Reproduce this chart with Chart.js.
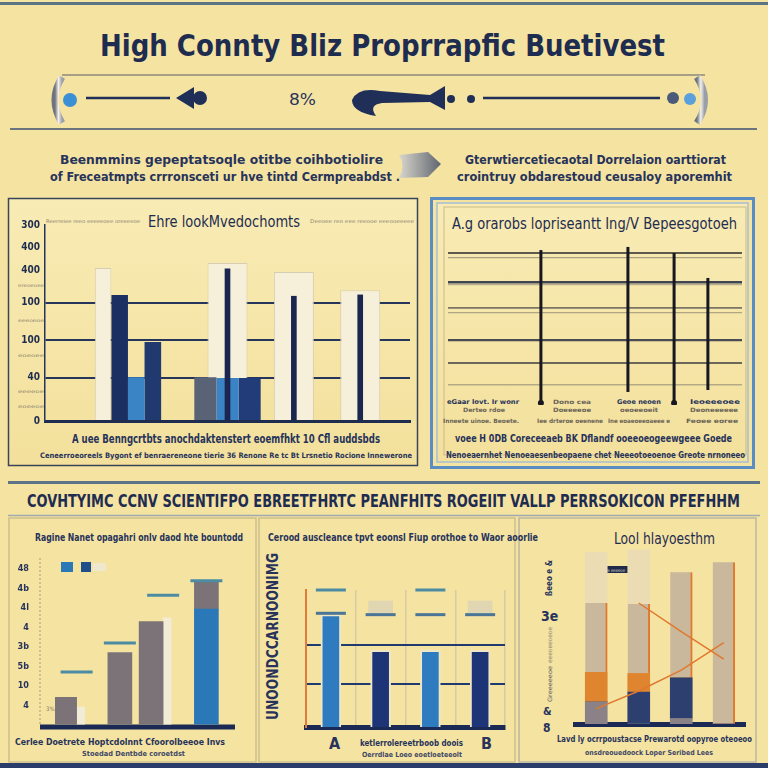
<!DOCTYPE html>
<html><head><meta charset="utf-8">
<script src="https://cdn.jsdelivr.net/npm/chart.js@4/dist/chart.umd.min.js"></script>
<style>
html,body{margin:0;padding:0;background:#f5e3a2;}
#page{position:relative;width:768px;height:768px;overflow:hidden;background:#f5e3a2;}
#bg{position:absolute;left:0;top:0;}
canvas{position:absolute;}
.hd{font-family:"Liberation Sans Narrow","DejaVu Sans Condensed",sans-serif;font-weight:bold;fill:#1e2c50;}
.sm{font-family:"DejaVu Sans Condensed","DejaVu Sans",sans-serif;font-weight:bold;fill:#27335a;}
.lt{font-family:"DejaVu Sans Condensed","DejaVu Sans",sans-serif;fill:#8d8470;}
</style></head><body>
<div id="page">
<svg id="bg" width="768" height="768" xmlns="http://www.w3.org/2000/svg">
  <defs>
    <linearGradient id="ga" x1="0" x2="1"><stop offset="0" stop-color="#d9d6cc"/><stop offset="1" stop-color="#5f6670"/></linearGradient>
    <linearGradient id="gc" x1="0" x2="1"><stop offset="0" stop-color="#6f737c"/><stop offset="0.5" stop-color="#f4f1ea"/><stop offset="1" stop-color="#9a9ea6"/></linearGradient>
    <linearGradient id="gb" x1="0" x2="0" y1="0" y2="1"><stop offset="0" stop-color="#f8ebb4"/><stop offset="1" stop-color="#f3e09c"/></linearGradient>
  </defs>
  <!-- header -->
  <rect x="0" y="2" width="768" height="3" fill="#5d7486"/>
  <text class="hd" x="100" y="56" font-size="30" textLength="565" lengthAdjust="spacingAndGlyphs" style="font-weight:600">High Connty Bliz Proprrapfic Buetivest</text>
  <line x1="62" y1="75" x2="705" y2="75" stroke="#8c8a7c" stroke-width="1.5"/>
  <path d="M62 77 Q48 100 62 123" stroke="url(#gc)" stroke-width="7" fill="none"/>
  <circle cx="70" cy="100" r="7" fill="#3b8fd4"/>
  <line x1="86" y1="98" x2="170" y2="98" stroke="#1f2f58" stroke-width="2.5"/>
  <path d="M176 98 L194 87 L194 109 Z" fill="#1f2f58"/><circle cx="200" cy="98" r="7" fill="#1f2f58"/>
  <text class="sm" x="289" y="105" font-size="15" textLength="27" lengthAdjust="spacingAndGlyphs" style="font-weight:normal">8%</text>
  <path d="M352 100 Q358 87 380 91 L430 95 L445 86 L445 110 L430 102 L382 103 Q368 105 376 116 Q352 112 352 100 Z" fill="#1f2f58"/>
  <circle cx="451" cy="99" r="4" fill="#1f2f58"/>
  <circle cx="471" cy="99" r="4" fill="#1f2f58"/>
  <line x1="483" y1="98" x2="660" y2="98" stroke="#1f2f58" stroke-width="2.5"/>
  <circle cx="673" cy="98" r="6" fill="#4a5a78"/>
  <circle cx="690" cy="99" r="6" fill="#5aa0dc"/>
  <path d="M697 77 Q712 100 697 123" stroke="url(#gc)" stroke-width="7" fill="none"/>
  <line x1="10" y1="129" x2="757" y2="129" stroke="#6c7480" stroke-width="2"/>

  <!-- subtitles -->
  <text class="sm" x="60" y="164" font-size="13" textLength="323" lengthAdjust="spacingAndGlyphs">Beenmmins gepeptatsoqle otitbe coihbotiolire</text>
  <text class="sm" x="50" y="181" font-size="13" textLength="350" lengthAdjust="spacingAndGlyphs">of Freceatmpts crrronsceti ur hve tintd Cermpreabdst .</text>
  <path d="M399 155 L428 152 L441 164 L428 177 L399 178 Q406 166 399 155 Z" fill="url(#ga)"/>
  <text class="sm" x="465" y="164" font-size="13" textLength="261" lengthAdjust="spacingAndGlyphs">Gterwtiercetiecaotal Dorrelaion oarttiorat</text>
  <text class="sm" x="457" y="181" font-size="13" textLength="275" lengthAdjust="spacingAndGlyphs">crointruy obdarestoud ceusaloy aporemhit</text>

  <!-- left box -->
  <rect x="8.5" y="198.5" width="409" height="267" fill="url(#gb)" stroke="#3a4658" stroke-width="1.5"/>
  <text class="hd" x="148" y="227" font-size="15" textLength="152" lengthAdjust="spacingAndGlyphs" style="font-weight:normal;font-family:'DejaVu Sans Condensed'">Ehre lookMvedochomts</text>
  <text class="lt" x="46" y="223" font-size="5" textLength="94" lengthAdjust="spacingAndGlyphs">Reerreiee reeo eeeeeoee oreeeeoe</text>
  <text class="lt" x="310" y="223" font-size="5" textLength="104" lengthAdjust="spacingAndGlyphs">Deeoee reo eee reeooe eeeooeeeee</text>
  <text class="lt" x="18" y="287" font-size="4.5" textLength="26" lengthAdjust="spacingAndGlyphs">ereoeoee</text>
  <text class="lt" x="18" y="322" font-size="4.5" textLength="26" lengthAdjust="spacingAndGlyphs">eeeoeoe</text>
  <text class="lt" x="18" y="357" font-size="4.5" textLength="26" lengthAdjust="spacingAndGlyphs">eoeoee</text>
  <text class="lt" x="18" y="393" font-size="4.5" textLength="26" lengthAdjust="spacingAndGlyphs">eeeeoe</text>
  <text class="lt" x="18" y="408" font-size="4.5" textLength="26" lengthAdjust="spacingAndGlyphs">eoeeoe</text>
  <text class="sm" x="72" y="443" font-size="11.5" textLength="308" lengthAdjust="spacingAndGlyphs">A uee Benngcrtbts anochdaktenstert eoemfhkt 10 Cfl auddsbds</text>
  <text class="sm" x="40" y="458" font-size="7.5" textLength="372" lengthAdjust="spacingAndGlyphs">Ceneerroeoreels Bygont ef benraereneone tierie 36 Renone Re tc Bt Lrsnetio Rocione Innewerone</text>

  <!-- right box -->
  <rect x="431.5" y="198.5" width="322" height="269" fill="none" stroke="#5a8dc4" stroke-width="3"/>
  <rect x="437" y="203" width="311" height="259" fill="url(#gb)" stroke="#a6bfd4" stroke-width="1.5"/>
  <rect x="444" y="207" width="302" height="248" fill="none" stroke="#c9b98a" stroke-width="1"/>
  <text class="hd" x="452" y="229" font-size="15.5" textLength="285" lengthAdjust="spacingAndGlyphs" style="font-weight:normal;font-family:'DejaVu Sans Condensed'">A.g orarobs lopriseantt Ing/V Bepeesgotoeh</text>
  <text class="sm" x="447" y="404" font-size="6.5" textLength="72" lengthAdjust="spacingAndGlyphs">eGaar lovt. Ir wonr</text>
  <text class="sm" x="463" y="412" font-size="6" textLength="42" lengthAdjust="spacingAndGlyphs" style="fill:#6a6458">Derteo rdoe</text>
  <text class="sm" x="443" y="423" font-size="6" textLength="76" lengthAdjust="spacingAndGlyphs" style="fill:#6a6458">Inneete uinoe. Beoete.</text>
  <text class="sm" x="553" y="404" font-size="6" textLength="38" lengthAdjust="spacingAndGlyphs" style="fill:#6a6458">Dono cea</text>
  <text class="sm" x="553" y="412" font-size="6" textLength="38" lengthAdjust="spacingAndGlyphs" style="fill:#6a6458">Doeeeeoe</text>
  <text class="sm" x="537" y="423" font-size="6" textLength="66" lengthAdjust="spacingAndGlyphs" style="fill:#6a6458">Iee drteroe oeenene</text>
  <text class="sm" x="617" y="404" font-size="6.5" textLength="44" lengthAdjust="spacingAndGlyphs">Geoe neoen</text>
  <text class="sm" x="620" y="412" font-size="6" textLength="38" lengthAdjust="spacingAndGlyphs" style="fill:#6a6458">oeoeeoeit</text>
  <text class="sm" x="608" y="423" font-size="6" textLength="62" lengthAdjust="spacingAndGlyphs" style="fill:#6a6458">Ine eoaeoeeoaeee e</text>
  <text class="sm" x="690" y="404" font-size="6.5" textLength="50" lengthAdjust="spacingAndGlyphs">Ieoeeeoee</text>
  <text class="sm" x="690" y="412" font-size="6" textLength="48" lengthAdjust="spacingAndGlyphs" style="fill:#6a6458">Deoneeeeee</text>
  <text class="sm" x="686" y="423" font-size="6" textLength="52" lengthAdjust="spacingAndGlyphs" style="fill:#6a6458">Feoee eoree</text>
  <text class="sm" x="455" y="442" font-size="10" textLength="277" lengthAdjust="spacingAndGlyphs">voee H 0DB Coreceeaeb BK Dflandf ooeeoeogeewgeee Goede</text>
  <text class="sm" x="446" y="458" font-size="8.5" textLength="299" lengthAdjust="spacingAndGlyphs">Nenoeaernhet Nenoeaesenbeopaene chet Neeeotoeoenoe Greote nrnoneeo</text>

  <!-- bottom section -->
  <rect x="8" y="481" width="752" height="3" fill="#5b7488"/>
  <text class="hd" x="27" y="507" font-size="18" textLength="713" lengthAdjust="spacingAndGlyphs">COVHTYIMC CCNV SCIENTIFPO EBREETFHRTC PEANFHITS ROGEIIT VALLP PERRSOKICON PFEFHHM</text>
  <line x1="8" y1="515.5" x2="760" y2="515.5" stroke="#9eaab0" stroke-width="1.5"/>
  <rect x="9" y="518" width="247" height="244" fill="none" stroke="#cdbf8c" stroke-width="1.5"/>
  <rect x="259" y="518" width="256" height="244" fill="none" stroke="#cdbf8c" stroke-width="1.5"/>
  <rect x="519" y="518" width="237" height="244" fill="none" stroke="#b9b8a4" stroke-width="1.5"/>
  <rect x="0" y="763" width="768" height="5" fill="#2a3d6a"/>

  <!-- panel A -->
  <text class="sm" x="35" y="541" font-size="10" textLength="208" lengthAdjust="spacingAndGlyphs">Ragine Nanet opagahri onlv daod hte bountodd</text>
  <line x1="40" y1="558" x2="40" y2="724" stroke="#c2b384" stroke-width="1.5" stroke-dasharray="2 2"/>
  <line x1="40" y1="727" x2="235" y2="727" stroke="#1a2a55" stroke-width="5"/>
  <rect x="61" y="562" width="12" height="10" fill="#2a78b8"/>
  <rect x="81" y="562" width="10" height="10" fill="#1e4f8a"/>
  <rect x="93" y="563" width="13" height="8" fill="#efe8cf"/>
  <text class="lt" x="46" y="711" font-size="6" style="fill:#8a7c68">3%</text>
  <text class="sm" x="15" y="745" font-size="9.5" textLength="210" lengthAdjust="spacingAndGlyphs">Cerlee Doetrete Hoptcdolnnt Cfoorolbeeoe Invs</text>
  <text class="sm" x="82" y="756" font-size="7" textLength="103" lengthAdjust="spacingAndGlyphs" style="fill:#3f4866">Stoedad Dentbde coroetdst</text>

  <!-- panel B -->
  <text class="sm" x="268" y="541" font-size="10" textLength="270" lengthAdjust="spacingAndGlyphs">Cerood auscleance tpvt eoonsl Fiup orothoe to Waor aoorlie</text>
  <text class="sm" transform="translate(278 720) rotate(-90)" x="0" y="0" font-size="16" textLength="167" lengthAdjust="spacingAndGlyphs">UNOONDCCARNOONIMG</text>
  <text class="sm" x="329" y="749" font-size="16">A</text>
  <text class="sm" x="481" y="749" font-size="16">B</text>
  <text class="sm" x="360" y="746" font-size="9" textLength="103" lengthAdjust="spacingAndGlyphs">ketlerrolereetrboob doois</text>
  <text class="sm" x="362" y="757" font-size="7" textLength="100" lengthAdjust="spacingAndGlyphs" style="fill:#3f4866">Oerrdlae Loeo eoetloeteeolt</text>

  <!-- panel C -->
  <text class="hd" x="614" y="544" font-size="16" textLength="101" lengthAdjust="spacingAndGlyphs" style="font-weight:normal;font-family:'DejaVu Sans Condensed'">Lool hlayoesthm</text>
  <text class="sm" transform="translate(552 596) rotate(-90)" x="0" y="0" font-size="8" textLength="36" lengthAdjust="spacingAndGlyphs">ßeeo e &amp;</text>
  <text class="sm" x="541" y="621" font-size="14">3e</text>
  <text class="lt" transform="translate(552 663) rotate(-90)" x="0" y="0" font-size="6" textLength="36" lengthAdjust="spacingAndGlyphs">eeeoeeoeoe</text>
  <text class="lt" transform="translate(552 702) rotate(-90)" x="0" y="0" font-size="6" textLength="36" lengthAdjust="spacingAndGlyphs" style="fill:#5a5a60">Greeeeeoe</text>
  <text class="sm" x="543" y="715" font-size="11">&amp;</text>
  <text class="sm" x="543" y="732" font-size="12">8</text>
  <rect x="587" y="566" width="41" height="7" fill="#1f2b48"/>
  <text class="lt" x="590" y="571.5" font-size="4.5" textLength="35" lengthAdjust="spacingAndGlyphs" style="fill:#d8d4c8">eo eeeoee eeeeoe</text>
  <text class="sm" x="557" y="742" font-size="9" textLength="195" lengthAdjust="spacingAndGlyphs">Lavd ly ocrrpoustacse Prewarotd oopyroe oteoeoo</text>
  <text class="sm" x="585" y="755" font-size="7" textLength="128" lengthAdjust="spacingAndGlyphs" style="fill:#3f4866">onsdreouedoock Loper Seribed Lees</text>
</svg>
<canvas id="cL" width="408" height="266" style="left:9px;top:199px"></canvas>
<canvas id="cR" width="298" height="175" style="left:446px;top:235px"></canvas>
<canvas id="cA" width="245" height="212" style="left:10px;top:536px"></canvas>
<canvas id="cB" width="215" height="150" style="left:296px;top:580px"></canvas>
<canvas id="cC" width="195" height="190" style="left:560px;top:540px"></canvas>
</div>
<script>
// ---------- DATA ----------
// Left chart: groups placed on 11 category slots
const leftCategories = ["", "", "Groupe 1", "", "", "Groupe 2", "", "Groupe 3", "", "Groupe 4", ""];
const leftTickValues = [0, 66, 124, 181, 231, 266, 300];
const leftTickLabels = ["0", "40", "100", "100", "400", "400", "300"];
const leftCreamFront = [null, null, 234, null, null, null, null, null, null, null, null];
const leftNavy       = [null, null, 193, null, null, 67, null, null, null, null, null];
const leftBlue       = [null, null, 67, null, null, 66, null, null, null, null, null];
const leftNavy2      = [null, null, 121, null, null, 66, null, null, null, null, null];
const leftCreamBack  = [null, null, null, null, null, 242, null, 228, null, 200, null];
const leftNavyLines  = [null, null, null, null, null, 233, null, 191, null, 193, null];

// Right chart: vertical lines and horizontal rules
const rightLineX      = [31.6, 61.2, 76.9, 88.4];
const rightLineTop    = [93.9, 95.8, 92.1, 77.0];
const rightLineBottom = [1.2, 7.9, 1.2, 9.1];
const rightRuleValues = [12.1, 25.5, 39.4, 55.8, 58.8, 72.7, 74.5, 89.1, 92.1];

// Panel A
const aCategories = ["A1", "A2", "A3", "A4"];
const aTickLabels = ["4", "10", "5b", "3b", "4", "4l", "4b", "48"];
const aBlue   = [null, null, null, 5.95];
const aGray   = [1.4, 3.7, 5.3, 1.4];
const aCream  = [0.9, null, 5.5, null];
const aTarget = [2.7, 4.2, 6.65, 7.4];

// Panel B
const bCategories = ["A", "", "", "B"];
const bBars    = [4.1, 2.8, 2.8, 2.8];
const bTargetHigh = [5.0, null, 5.0, null];
const bTargetLow  = [4.15, 4.1, 4.1, 4.1];
const bBoxLow  = [null, 4.15, null, 4.15];
const bBoxHigh = [null, 4.6, null, 4.6];
const bGridValues = [1.57, 3.0];

// Panel C
const cCategories = ["C1", "C2", "C3", "C4"];
const cGray   = [1.0, 0, 0.25, 0];
const cNavy   = [0, 1.45, 1.85, 0];
const cOrange = [1.35, 0.85, 0, 0];
const cTan    = [3.15, 3.15, 4.8, 7.35];
const cLight  = [2.3, 2.45, 0, 0];
const cLineDown = [null, 5.5, 4.2, 2.95];
const cLineUp   = [0.7, 1.5, 2.45, 3.7];

// ---------- CHARTS ----------
Chart.defaults.animation = false;
Chart.defaults.responsive = false;
Chart.defaults.layout.autoPadding = false;
Chart.defaults.font.family = "'DejaVu Sans Condensed','DejaVu Sans',sans-serif";
Chart.defaults.plugins.legend.display = false;
Chart.defaults.plugins.tooltip.enabled = false;

const NAVY = '#1c2f63', BLUE = '#3a83c4', CREAM = '#f6f0da', TEAL = '#4b8ca3';

// Left chart
new Chart(document.getElementById('cL'), {
  type: 'bar',
  data: {
    labels: leftCategories,
    datasets: [
      {data: leftNavyLines, backgroundColor: '#1a2550', grouped: false, barThickness: 5, order: 0},
      {data: leftCreamFront, backgroundColor: CREAM, borderColor: '#d6cdb3', borderWidth: 1, order: 1},
      {data: leftNavy, backgroundColor: [NAVY, NAVY, NAVY, NAVY, NAVY, '#5a6276', NAVY, NAVY, NAVY, NAVY, NAVY], order: 1},
      {data: leftBlue, backgroundColor: BLUE, order: 1},
      {data: leftNavy2, backgroundColor: [NAVY, NAVY, '#203a70', NAVY, NAVY, '#213c78', NAVY, NAVY, NAVY, NAVY, NAVY], order: 1},
      {data: leftCreamBack, backgroundColor: CREAM, borderColor: '#d6cdb3', borderWidth: 1, grouped: false, maxBarThickness: 40, categoryPercentage: 2, barPercentage: 0.7, order: 2}
    ]
  },
  options: {
    layout: {padding: {left: 0, top: 26, right: 7, bottom: 44}},
    datasets: {bar: {categoryPercentage: 2, barPercentage: 1, skipNull: true}},
    scales: {
      x: {ticks: {display: false}, grid: {display: false}, border: {color: '#1e2c50', width: 3},
          afterFit: s => { s.height = 0; }},
      y: {min: 0, max: 300,
          afterBuildTicks: ax => { ax.ticks = leftTickValues.map(v => ({value: v})); },
          afterFit: s => { s.width = 36; },
          ticks: {callback: (v, i) => leftTickLabels[i], color: '#1e2c50', font: {size: 10, weight: 'bold'}, padding: 5},
          grid: {drawTicks: false, color: c => (c.index >= 1 && c.index <= 3) ? '#26355c' : 'rgba(0,0,0,0)', lineWidth: 2},
          border: {color: '#26355c', width: 1.5}}
    }
  }
});

// Right chart
const rightRuleColors = ['#b4aa88', '#6b675a', '#4a4c56', '#b0a684', '#7a7566', '#b8ae8c', '#3f4552', '#a99f80', '#5e5a4e'];
const rightRuleWidths = [1.5, 2, 2.2, 1.2, 1.8, 1.2, 2.5, 1.2, 2];
new Chart(document.getElementById('cR'), {
  type: 'scatter',
  data: {
    datasets: rightLineX.map((x, i) => ({
      data: [{x: x, y: rightLineBottom[i]}, {x: x, y: rightLineTop[i]}],
      showLine: true, borderColor: '#17171f', borderWidth: 3,
      pointRadius: (i === 0 || i === 2) ? [3, 0] : [0, 0], pointBackgroundColor: '#17171f', pointBorderWidth: 0
    }))
  },
  options: {
    layout: {padding: {left: 2, right: 2, top: 5, bottom: 5}},
    scales: {
      x: {type: 'linear', min: 0, max: 100, display: false},
      y: {min: 0, max: 100, afterFit: s => { s.width = 0; },
          afterBuildTicks: ax => { ax.ticks = rightRuleValues.map(v => ({value: v})); },
          ticks: {display: false},
          grid: {drawTicks: false, color: c => rightRuleColors[c.index], lineWidth: c => rightRuleWidths[c.index]},
          border: {display: false}}
    }
  }
});

// Panel A
new Chart(document.getElementById('cA'), {
  type: 'bar',
  data: {
    labels: aCategories,
    datasets: [
      {type: 'line', data: aTarget, showLine: false, pointStyle: 'line', pointRadius: 16, borderColor: TEAL, borderWidth: 3, order: 0},
      {data: aBlue, backgroundColor: '#2a78b8', stack: 'main', barThickness: 24, order: 1},
      {data: aGray, backgroundColor: '#7b7378', stack: 'main', barThickness: 24, order: 1},
      {data: aCream, backgroundColor: '#f2ecd6', stack: 'side', barThickness: 8, order: 1}
    ]
  },
  options: {
    layout: {padding: {left: 0, top: 0, right: 27, bottom: 0}},
    datasets: {bar: {skipNull: true}},
    scales: {
      x: {stacked: true, ticks: {display: false}, grid: {display: false}, border: {display: false},
          afterFit: s => { s.height = 0; }},
      y: {stacked: true, min: 0, max: 8.5, afterFit: s => { s.width = 45; },
          afterBuildTicks: ax => { ax.ticks = aTickLabels.map((t, i) => ({value: i + 1})); },
          ticks: {callback: (v, i) => aTickLabels[i], color: '#27335a', font: {size: 9, weight: 'bold'}, padding: 18},
          grid: {display: false},
          border: {display: false}}
    }
  }
});

// Panel B
new Chart(document.getElementById('cB'), {
  type: 'bar',
  data: {
    labels: bCategories,
    datasets: [
      {type: 'line', data: bTargetHigh, showLine: false, pointStyle: 'line', pointRadius: 15, borderColor: TEAL, borderWidth: 3, order: 0, clip: false},
      {type: 'line', data: bTargetLow, showLine: false, pointStyle: 'line', pointRadius: 15, borderColor: '#4a7596', borderWidth: 3, order: 0},
      {data: bBars, backgroundColor: ['#2f7bbf', '#1d3577', '#2f7bbf', '#1d3577'], borderColor: '#efe6c8', borderWidth: 2, barThickness: 20, order: 1},
      {data: bBoxLow.map((v, i) => v === null ? null : [v, bBoxHigh[i]]), backgroundColor: '#e0d6b2', grouped: false, barThickness: 24, order: 2}
    ]
  },
  options: {
    layout: {padding: {left: 0, top: 10, right: 6, bottom: 3}},
    scales: {
      x: {ticks: {display: false}, grid: {display: true, color: '#d7cba2', lineWidth: 1.5, drawTicks: false},
          border: {color: '#1a2a55', width: 5}, afterFit: s => { s.height = 0; }},
      y: {min: 0, max: 5, afterFit: s => { s.width = 10; },
          afterBuildTicks: ax => { ax.ticks = bGridValues.map(v => ({value: v})); },
          ticks: {display: false},
          grid: {drawTicks: false, color: '#1e3a6e', lineWidth: 2},
          border: {color: '#e07b39', width: 2}}
    }
  }
});

// Panel C
const ORANGE = '#e0782e';
new Chart(document.getElementById('cC'), {
  type: 'bar',
  data: {
    labels: cCategories,
    datasets: [
      {type: 'line', data: cLineDown, stack: 'l1', borderColor: ORANGE, borderWidth: 1.5, pointRadius: 0, order: 0},
      {type: 'line', data: cLineUp, stack: 'l2', borderColor: ORANGE, borderWidth: 1.5, pointRadius: 0, order: 0},
      {data: cGray, backgroundColor: '#8a8287', stack: 's', order: 1},
      {data: cNavy, backgroundColor: '#2c3f6e', stack: 's', order: 1},
      {data: cOrange, backgroundColor: '#df8530', stack: 's', order: 1},
      {data: cTan, backgroundColor: '#c9b89c', borderColor: ORANGE, borderWidth: {right: 2, top: 0, left: 0, bottom: 0}, stack: 's', order: 1},
      {data: cLight, backgroundColor: '#ecdcb3', stack: 's', order: 1}
    ]
  },
  options: {
    layout: {padding: {left: 0, top: 8, right: 10, bottom: 6}},
    datasets: {bar: {barThickness: 22}},
    scales: {
      x: {stacked: true, ticks: {display: false}, grid: {display: false}, border: {color: '#1a2a55', width: 5},
          afterFit: s => { s.height = 0; }},
      y: {stacked: true, min: 0, max: 8, afterFit: s => { s.width = 15; },
          ticks: {display: false}, grid: {display: false}, border: {display: false}}
    }
  }
});
</script>
</body></html>
